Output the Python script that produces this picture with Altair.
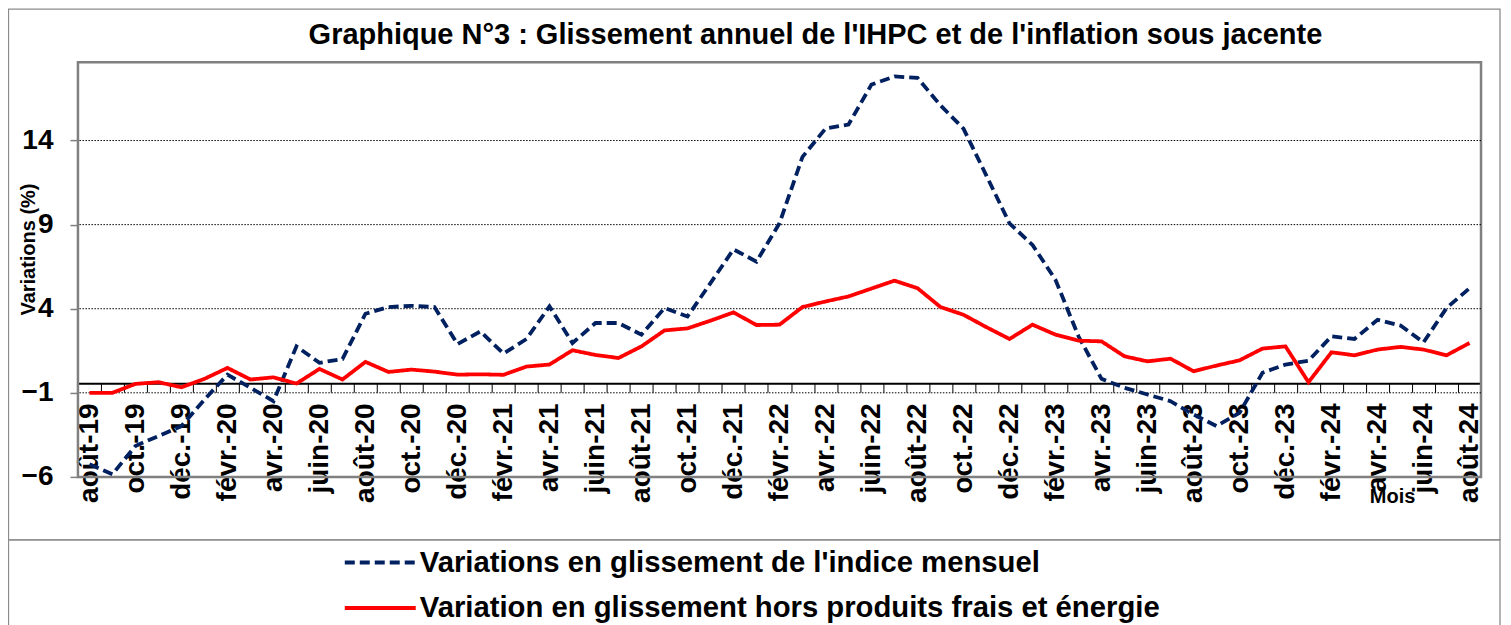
import altair as alt
import pandas as pd

months = [
    "août-19", "sept.-19", "oct.-19", "nov.-19", "déc.-19",
    "janv.-20", "févr.-20", "mars-20", "avr.-20", "mai-20", "juin-20",
    "juil.-20", "août-20", "sept.-20", "oct.-20", "nov.-20", "déc.-20",
    "janv.-21", "févr.-21", "mars-21", "avr.-21", "mai-21", "juin-21",
    "juil.-21", "août-21", "sept.-21", "oct.-21", "nov.-21", "déc.-21",
    "janv.-22", "févr.-22", "mars-22", "avr.-22", "mai-22", "juin-22",
    "juil.-22", "août-22", "sept.-22", "oct.-22", "nov.-22", "déc.-22",
    "janv.-23", "févr.-23", "mars-23", "avr.-23", "mai-23", "juin-23",
    "juil.-23", "août-23", "sept.-23", "oct.-23", "nov.-23", "déc.-23",
    "janv.-24", "févr.-24", "mars-24", "avr.-24", "mai-24", "juin-24",
    "juil.-24", "août-24",
]

ihpc = [
    -5.25, -5.84, -4.16, -3.57, -2.98, -1.40, 0.08, -0.70, -1.50, 1.76,
    0.78, 1.01, 3.70, 4.10, 4.17, 4.10, 1.90, 2.65, 1.33, 2.20,
    4.14, 1.96, 3.15, 3.15, 2.46, 4.04, 3.54, 5.52, 7.53, 6.80,
    9.08, 13.03, 14.71, 14.95, 17.33, 17.81, 17.73, 16.09, 14.71, 11.90,
    9.08, 7.79, 5.72, 2.36, -0.17, -0.70, -1.10, -1.50, -2.29, -2.98,
    -2.19, 0.19, 0.68, 0.91, 2.36, 2.20, 3.34, 3.00, 2.00, 4.04, 5.22,
]

core = [
    -1.00, -1.00, -0.47, -0.37, -0.67, -0.17, 0.48, -0.21, -0.08, -0.45,
    0.42, -0.21, 0.84, 0.24, 0.38, 0.26, 0.08, 0.10, 0.07, 0.56,
    0.68, 1.53, 1.25, 1.07, 1.76, 2.71, 2.83, 3.29, 3.78, 3.03,
    3.05, 4.10, 4.43, 4.73, 5.20, 5.67, 5.22, 4.10, 3.64, 2.90,
    2.20, 3.05, 2.46, 2.10, 2.06, 1.17, 0.87, 1.03, 0.28, 0.62,
    0.93, 1.63, 1.76, -0.37, 1.41, 1.23, 1.57, 1.73, 1.57, 1.23, 1.96,
]

series_names = [
    "Variations en glissement de l'indice mensuel",
    "Variation en glissement hors produits frais et énergie",
]
series_colors = ["#002060", "#FF0000"]
y_ticks = [-6, -1, 4, 9, 14]
grid_values = [-1, 4, 9, 14]

df = pd.DataFrame({
    "mois": months + months,
    "valeur": ihpc + core,
    "serie": [series_names[0]] * len(months) + [series_names[1]] * len(months),
})
grid_df = pd.DataFrame({"valeur": grid_values})
frame_df = pd.DataFrame({"k": [0]})

FONT = "Liberation Sans"
W, H = 1404, 415

y_scale = alt.Scale(domain=[-6, 18.66], nice=False, zero=False)
y_axis = alt.Axis(
    values=y_ticks, title="Variations (%)", titleX=-49.5, titleY=187,
    titleAngle=270, titleAlign="center", titleBaseline="middle",
    titleFont=FONT, titleFontSize=20, titleFontWeight="bold", titleColor="black",
    domain=False, grid=False, tickColor="#808080", tickSize=8, tickWidth=1.5,
    labelFont=FONT, labelFontSize=28, labelFontWeight="bold", labelColor="black",
    labelPadding=17,
)

x_axis = alt.Axis(
    title="Mois", titleX=1315, titleY=119.7, titleAlign="center",
    titleBaseline="alphabetic", titleFont=FONT, titleFontSize=20,
    titleFontWeight="bold", titleColor="black",
    offset=-93.7, domainColor="black", domainWidth=2,
    tickColor="black", tickSize=9, tickWidth=1, tickBand="extent",
    labelAngle=270, labelFont=FONT, labelFontSize=28, labelFontWeight="bold",
    labelColor="black", labelPadding=10.7, labelOverlap=False,
    labelExpr="test(regexp('^(août|oct|déc|févr|avr|juin)'), datum.value) ? datum.label : ''",
)

legend = alt.Legend(
    title=None, orient="none", legendX=265, legendY=480.7, direction="vertical",
    symbolType="stroke", symbolSize=5041, symbolStrokeWidth=4,
    labelFont=FONT, labelFontSize=29.3, labelFontWeight="bold", labelColor="black",
    labelLimit=1200, labelOffset=2, rowPadding=5.6, padding=0, clipHeight=40,
)

frame_top = alt.Chart(frame_df).mark_rect(
    filled=False, stroke="#8c8c8c", strokeWidth=1.3
).encode(
    x=alt.value(-69.5), x2=alt.value(1423), y=alt.value(-53), y2=alt.value(478)
)
frame_bottom = alt.Chart(frame_df).mark_rect(
    filled=False, stroke="#8c8c8c", strokeWidth=1.3
).encode(
    x=alt.value(-69.5), x2=alt.value(1423), y=alt.value(478), y2=alt.value(620)
)

plot_frame = alt.Chart(frame_df).mark_rect(
    filled=False, stroke="#808080", strokeWidth=2.5
).encode(
    x=alt.value(0), x2=alt.value(W), y=alt.value(0), y2=alt.value(H)
)

grid = alt.Chart(grid_df).mark_rule(
    color="black", strokeDash=[1.5, 1.5], strokeWidth=1
).encode(
    y=alt.Y("valeur:Q", scale=y_scale, axis=y_axis)
)

lines = alt.Chart(df).mark_line(strokeWidth=3.8).encode(
    x=alt.X("mois:N", sort=months, bandPosition=0.5,
            scale=alt.Scale(type="band", paddingInner=0, paddingOuter=0),
            axis=x_axis),
    y=alt.Y("valeur:Q", scale=y_scale, axis=y_axis),
    color=alt.Color("serie:N", scale=alt.Scale(domain=series_names, range=series_colors),
                    legend=legend),
    strokeDash=alt.StrokeDash("serie:N",
                              scale=alt.Scale(domain=series_names, range=[[10, 5], [1, 0]]),
                              legend=legend),
)

chart = alt.layer(frame_top, frame_bottom, plot_frame, grid, lines).properties(
    width=W, height=H,
    title=alt.TitleParams(
        text="Graphique N°3 : Glissement annuel de l'IHPC et de l'inflation sous jacente",
        font=FONT, fontSize=29, fontWeight="bold", color="black",
        anchor="middle", frame="group", dx=36, dy=64, offset=0, baseline="alphabetic",
    ),
    autosize=alt.AutoSizeParams(type="none"),
    padding={"left": 70, "top": 54, "right": 22, "bottom": 148},
).configure_view(
    stroke=None
).configure(background="white")

chart.save("out.html", embed_options={"renderer": "svg", "actions": False})
